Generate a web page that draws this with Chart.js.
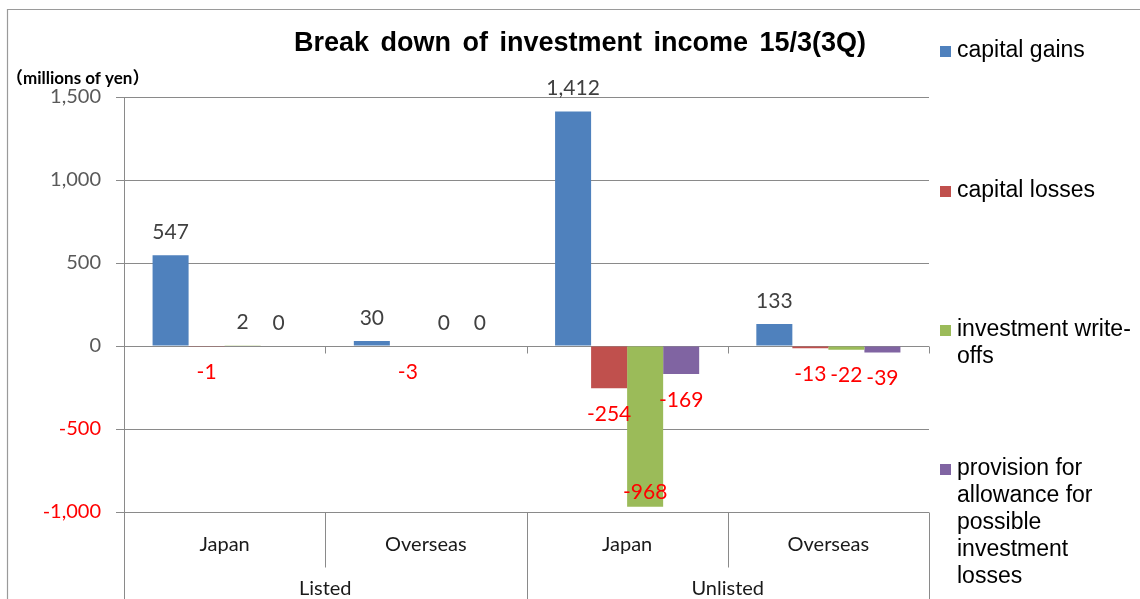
<!DOCTYPE html>
<html>
<head>
<meta charset="utf-8">
<script src="https://cdn.jsdelivr.net/npm/chart.js@4/dist/chart.umd.min.js"></script>
<style>
  html, body { margin: 0; padding: 0; background: #fff; }
  #wrap { width: 1140px; height: 599px; position: relative; }
</style>
</head>
<body>
<div id="wrap"><canvas id="c"></canvas></div>
<script>
// Categories along the bottom axis and the groups they belong to
const categories = ['Japan', 'Overseas', 'Japan', 'Overseas'];
const groups = ['Listed', 'Unlisted'];
const groupSpan = [2, 2];

// Series (millions of yen)
const seriesNames = ['capital gains', 'capital losses', 'investment write-offs',
  'provision for allowance for possible investment losses'];
const capitalGains = [547, 30, 1412, 133];
const capitalLosses = [-1, -3, -254, -13];
const writeOffs = [2, 0, -968, -22];
const provisions = [0, 0, -169, -39];

// Legend text as wrapped in the side legend
const legendLines = [
  ['capital gains'],
  ['capital losses'],
  ['investment write-', 'offs'],
  ['provision for', 'allowance for', 'possible', 'investment', 'losses']
];

const yTicks = [-1000, -500, 0, 500, 1000, 1500];
const titleText = 'Break down of investment income 15/3(3Q)';
const unitText = '（millions of yen）';

const colors = ['#4F81BD', '#C0504D', '#9BBB59', '#8064A2'];
const seriesValues = [capitalGains, capitalLosses, writeOffs, provisions];
const fmt = v => v.toLocaleString('en-US');
const LABEL_FONT = 'Lato, "Noto Sans", sans-serif';
const GRID = '#8a8a8a';

const decorations = {
  id: 'decorations',
  afterDatasetsDraw(chart) {
    const ctx = chart.ctx;
    const area = chart.chartArea;
    const xs = chart.scales.x;
    const ys = chart.scales.y;
    const zeroY = Math.round(ys.getPixelForValue(0)) + 0.5;

    // value labels: positives above the bar, negatives in red below it
    ctx.save();
    ctx.font = '21px ' + LABEL_FONT;
    ctx.textAlign = 'center';
    ctx.textBaseline = 'middle';
    chart.data.datasets.forEach((ds, di) => {
      const meta = chart.getDatasetMeta(di);
      meta.data.forEach((bar, i) => {
        const v = ds.data[i];
        let y;
        if (v >= 0) {
          ctx.fillStyle = '#404040';
          y = bar.y - 23;
        } else {
          ctx.fillStyle = '#FF0000';
          y = Math.min(bar.y + 26, area.bottom - 20);
        }
        ctx.fillText(fmt(v), bar.x, y);
      });
    });
    ctx.restore();

    // boundaries between categories
    const n = categories.length;
    const bounds = [area.left];
    for (let i = 1; i < n; i++) {
      bounds.push((xs.getPixelForValue(i - 1) + xs.getPixelForValue(i)) / 2);
    }
    bounds.push(area.right);

    ctx.save();
    ctx.strokeStyle = GRID;
    ctx.lineWidth = 1;
    ctx.beginPath();
    // tick marks on the zero line
    bounds.forEach(b => {
      const bx = Math.round(b) + 0.5;
      ctx.moveTo(bx, zeroY);
      ctx.lineTo(bx, zeroY + 7);
    });
    // category table below the plot
    const bottom = Math.round(area.bottom) + 0.5;
    const groupEdges = new Set([0]);
    let acc = 0;
    groupSpan.forEach(s => { acc += s; groupEdges.add(acc); });
    bounds.forEach((b, i) => {
      const bx = Math.round(b) + 0.5;
      ctx.moveTo(bx, bottom);
      ctx.lineTo(bx, groupEdges.has(i) ? chart.height : bottom + 55);
    });
    ctx.stroke();

    ctx.fillStyle = '#1a1a1a';
    ctx.font = '20px ' + LABEL_FONT;
    ctx.textAlign = 'center';
    ctx.textBaseline = 'middle';
    categories.forEach((c, i) => {
      ctx.fillText(c, xs.getPixelForValue(i), bottom + 32);
    });
    let start = 0;
    groups.forEach((g, gi) => {
      const x0 = bounds[start], x1 = bounds[start + groupSpan[gi]];
      ctx.fillText(g, (x0 + x1) / 2, bottom + 76);
      start += groupSpan[gi];
    });
    ctx.restore();

    // outer frame (top and left edges)
    ctx.save();
    ctx.strokeStyle = '#9a9a9a';
    ctx.lineWidth = 1.2;
    ctx.beginPath();
    ctx.moveTo(7.5, chart.height);
    ctx.lineTo(7.5, 9.5);
    ctx.lineTo(chart.width, 9.5);
    ctx.stroke();
    ctx.restore();

    // title
    ctx.save();
    ctx.fillStyle = '#000';
    ctx.font = 'bold 27px "Liberation Sans", Arial, sans-serif';
    ctx.textAlign = 'center';
    ctx.textBaseline = 'middle';
    if ('wordSpacing' in ctx) ctx.wordSpacing = '4px';
    ctx.fillText(titleText, 580, 44);
    if ('wordSpacing' in ctx) ctx.wordSpacing = '0px';
    // unit
    ctx.font = 'bold 17px ' + LABEL_FONT + ', "Noto Sans CJK JP"';
    ctx.textAlign = 'left';
    ctx.fillText(unitText, 6, 79);
    ctx.restore();

    // legend
    ctx.save();
    ctx.font = '23px "Liberation Sans", Arial, sans-serif';
    ctx.textBaseline = 'middle';
    ctx.textAlign = 'left';
    const legendTop = [51, 191, 330, 469];
    chart.data.datasets.forEach((ds, di) => {
      const y0 = legendTop[di];
      ctx.fillStyle = ds.backgroundColor;
      ctx.fillRect(940, y0 - 5, 11, 11);
      ctx.fillStyle = '#000';
      legendLines[di].forEach((line, li) => {
        ctx.fillText(line, 957, y0 + li * 27);
      });
    });
    ctx.restore();
  }
};

new Chart(document.getElementById('c'), {
  type: 'bar',
  data: {
    labels: categories,
    datasets: seriesNames.map((name, i) => ({
      label: name,
      data: seriesValues[i],
      backgroundColor: colors[i],
      borderWidth: 0,
      categoryPercentage: 0.716,
      barPercentage: 1.0
    }))
  },
  options: {
    responsive: true,
    maintainAspectRatio: false,
    animation: false,
    layout: { padding: { left: 0, right: 211, top: 97, bottom: 87 } },
    plugins: {
      legend: { display: false },
      title: { display: false },
      tooltip: { enabled: false }
    },
    scales: {
      x: { display: false },
      y: {
        min: yTicks[0],
        max: yTicks[yTicks.length - 1],
        afterFit(scale) { scale.width = 124; },
        afterBuildTicks(scale) { scale.ticks = yTicks.map(v => ({ value: v })); },
        border: { display: true, color: GRID, width: 1 },
        grid: { color: GRID, lineWidth: 1, drawTicks: true, tickLength: 8 },
        ticks: {
          padding: 15,
          font: { family: LABEL_FONT, size: 20 },
          color: ctx => (ctx.tick && ctx.tick.value < 0) ? '#FF0000' : '#595959',
          callback: v => fmt(v)
        }
      }
    }
  },
  plugins: [decorations]
});
</script>
</body>
</html>
